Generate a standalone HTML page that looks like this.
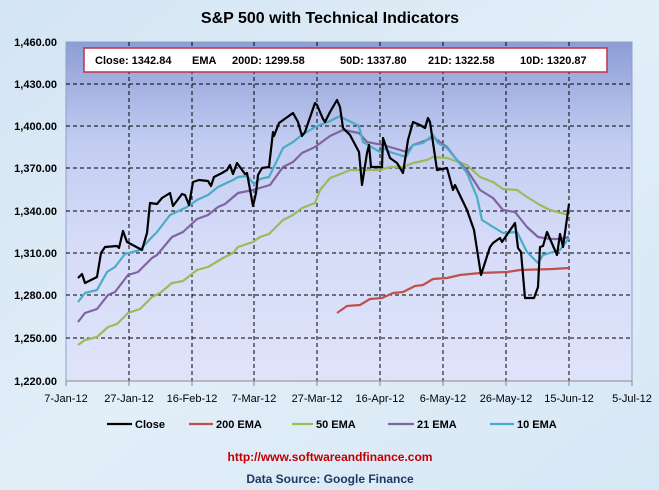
<!DOCTYPE html>
<html><head><meta charset="utf-8"><style>
body{margin:0;width:659px;height:490px;overflow:hidden;background:#dbe9f5;font-family:"Liberation Sans",sans-serif}
</style></head><body>
<svg width="659" height="490" viewBox="0 0 659 490" xmlns="http://www.w3.org/2000/svg" style="display:block">
<defs>
<linearGradient id="pg" x1="0" y1="0" x2="0" y2="1">
<stop offset="0" stop-color="#8d9dd5"/><stop offset="0.3" stop-color="#c3cdf2"/><stop offset="0.6" stop-color="#d6dcf8"/><stop offset="1" stop-color="#dfe3fa"/>
</linearGradient>
<linearGradient id="bg" x1="0" y1="0" x2="1" y2="1">
<stop offset="0" stop-color="#d3e4f3"/><stop offset="0.5" stop-color="#e2eef8"/><stop offset="1" stop-color="#d6e7f5"/>
</linearGradient>
</defs>
<rect width="659" height="490" fill="url(#bg)"/>
<text x="330" y="23" text-anchor="middle" font-size="16" font-weight="bold" fill="#000">S&amp;P 500 with Technical Indicators</text>
<rect x="66" y="42" width="566" height="339" fill="url(#pg)" stroke="#8da0c8" stroke-width="1"/>
<g stroke="#000" stroke-width="1" stroke-dasharray="4,3">
<line x1="66" y1="84" x2="632" y2="84"/><line x1="66" y1="126" x2="632" y2="126"/><line x1="66" y1="168" x2="632" y2="168"/><line x1="66" y1="211" x2="632" y2="211"/><line x1="66" y1="253" x2="632" y2="253"/><line x1="66" y1="295" x2="632" y2="295"/><line x1="66" y1="338" x2="632" y2="338"/>
<line x1="129" y1="42" x2="129" y2="381"/><line x1="192" y1="42" x2="192" y2="381"/><line x1="254" y1="42" x2="254" y2="381"/><line x1="317" y1="42" x2="317" y2="381"/><line x1="380" y1="42" x2="380" y2="381"/><line x1="443" y1="42" x2="443" y2="381"/><line x1="506" y1="42" x2="506" y2="381"/><line x1="569" y1="42" x2="569" y2="381"/>
</g>
<g stroke="#888" stroke-width="1">
<line x1="66" y1="381" x2="632" y2="381"/>
<line x1="66" y1="381" x2="66" y2="386"/><line x1="129" y1="381" x2="129" y2="386"/><line x1="192" y1="381" x2="192" y2="386"/><line x1="254" y1="381" x2="254" y2="386"/><line x1="317" y1="381" x2="317" y2="386"/><line x1="380" y1="381" x2="380" y2="386"/><line x1="443" y1="381" x2="443" y2="386"/><line x1="506" y1="381" x2="506" y2="386"/><line x1="569" y1="381" x2="569" y2="386"/><line x1="632" y1="381" x2="632" y2="386"/>
</g>
<rect x="84" y="48" width="523" height="24" fill="#fff" stroke="#c0304a" stroke-width="1.5"/>
<g font-size="11" font-weight="bold" fill="#000">
<text x="95" y="64">Close: 1342.84</text><text x="192" y="64">EMA</text><text x="232" y="64">200D: 1299.58</text><text x="340" y="64">50D: 1337.80</text><text x="428" y="64">21D: 1322.58</text><text x="520" y="64">10D: 1320.87</text>
</g>
<g font-size="11" font-weight="bold" fill="#000" text-anchor="end">
<text x="57" y="46">1,460.00</text><text x="57" y="88">1,430.00</text><text x="57" y="130">1,400.00</text><text x="57" y="172">1,370.00</text><text x="57" y="215">1,340.00</text><text x="57" y="257">1,310.00</text><text x="57" y="299">1,280.00</text><text x="57" y="342">1,250.00</text><text x="57" y="385">1,220.00</text>
</g>
<g font-size="11" fill="#000" text-anchor="middle">
<text x="66" y="402">7-Jan-12</text><text x="129" y="402">27-Jan-12</text><text x="192" y="402">16-Feb-12</text><text x="254" y="402">7-Mar-12</text><text x="317" y="402">27-Mar-12</text><text x="380" y="402">16-Apr-12</text><text x="443" y="402">6-May-12</text><text x="506" y="402">26-May-12</text><text x="569" y="402">15-Jun-12</text><text x="632" y="402">5-Jul-12</text>
</g>
<g fill="none" stroke-width="2.2" stroke-linejoin="round">
<polyline stroke="#c0504d" points="337,313 347,306 360,305 370,299 382,298 393,293 403,292 415,286 423,285 433,279 447,278 460,275 480,273 507,272 520,270 553,269 569,268"/>
<polyline stroke="#9bbb59" points="78,345 85,340 97,337 108,327 117,324 128,313 140,309 152,297 160,293 172,283 183,281 197,270 208,267 223,258 233,253 238,247 253,242 260,237 269,234 283,220 293,215 302,208 315,203 320,190 330,178 343,173 350,170 380,170 390,167 403,167 413,163 427,160 433,157 447,158 467,165 480,177 493,182 503,189 517,190 527,197 540,205 550,210 569,215"/>
<polyline stroke="#8064a2" points="78,322 85,313 97,309 108,295 115,292 128,275 138,272 152,258 157,255 172,237 183,232 197,219 208,215 218,207 225,204 238,193 253,190 263,187 270,185 283,167 293,162 302,153 315,147 330,136 343,130 359,133 367,142 383,145 407,152 413,145 427,140 433,137 447,147 457,160 467,170 480,190 493,198 503,210 515,212 527,227 538,237 550,239 560,239 569,237"/>
<polyline stroke="#4bacc6" points="78,302 85,293 97,290 107,272 115,267 125,254 140,250 152,237 157,232 170,215 187,207 197,200 208,195 218,187 233,180 238,177 247,176 254,184 260,179 269,177 283,148 293,142 302,135 315,127 320,125 330,121 340,116 343,118 359,126 363,142 380,152 383,148 390,152 406,157 413,145 423,143 433,135 438,143 447,148 457,160 467,173 477,197 482,220 490,225 503,233 517,232 527,252 538,263 543,255 553,252 560,250 569,238"/>
<polyline stroke="#000" points="78,278 82,274 85,283 97,277 101,253 105,247 117,246 119,248 123,231 127,242 142,250 147,233 150,203 157,204 162,198 170,193 173,206 182,194 185,195 189,205 193,182 199,180 208,181 211,186 214,177 222,173 227,170 230,165 233,174 237,163 245,174 247,173 253,206 256,193 258,175 262,168 269,167 273,132 274,136 279,123 293,113 298,122 302,136 305,132 315,103 317,105 323,119 325,122 330,112 337,100 340,107 343,128 350,135 359,152 362,185 367,153 369,145 371,167 382,167 383,138 390,158 397,163 403,173 408,140 413,122 420,125 425,128 428,118 430,122 437,170 447,168 453,190 455,185 467,210 474,230 481,275 490,247 493,243 500,238 502,242 515,223 518,248 521,252 525,298 534,298 538,287 540,247 543,246 547,232 557,255 560,234 563,247 569,204"/>
</g>
<g stroke-width="2.2">
<line x1="107" y1="424" x2="132" y2="424" stroke="#000"/>
<line x1="189" y1="424" x2="213" y2="424" stroke="#c0504d"/>
<line x1="292" y1="424" x2="313" y2="424" stroke="#9bbb59"/>
<line x1="388" y1="424" x2="414" y2="424" stroke="#8064a2"/>
<line x1="490" y1="424" x2="514" y2="424" stroke="#4bacc6"/>
</g>
<g font-size="11" font-weight="bold" fill="#000">
<text x="135" y="428">Close</text><text x="216" y="428">200 EMA</text><text x="316" y="428">50 EMA</text><text x="417" y="428">21 EMA</text><text x="517" y="428">10 EMA</text>
</g>
<text x="330" y="461" text-anchor="middle" font-size="12" font-weight="bold" fill="#c00000">http://www.softwareandfinance.com</text>
<text x="330" y="483" text-anchor="middle" font-size="12" font-weight="bold" fill="#1f3864">Data Source: Google Finance</text>
</svg>
</body></html>
